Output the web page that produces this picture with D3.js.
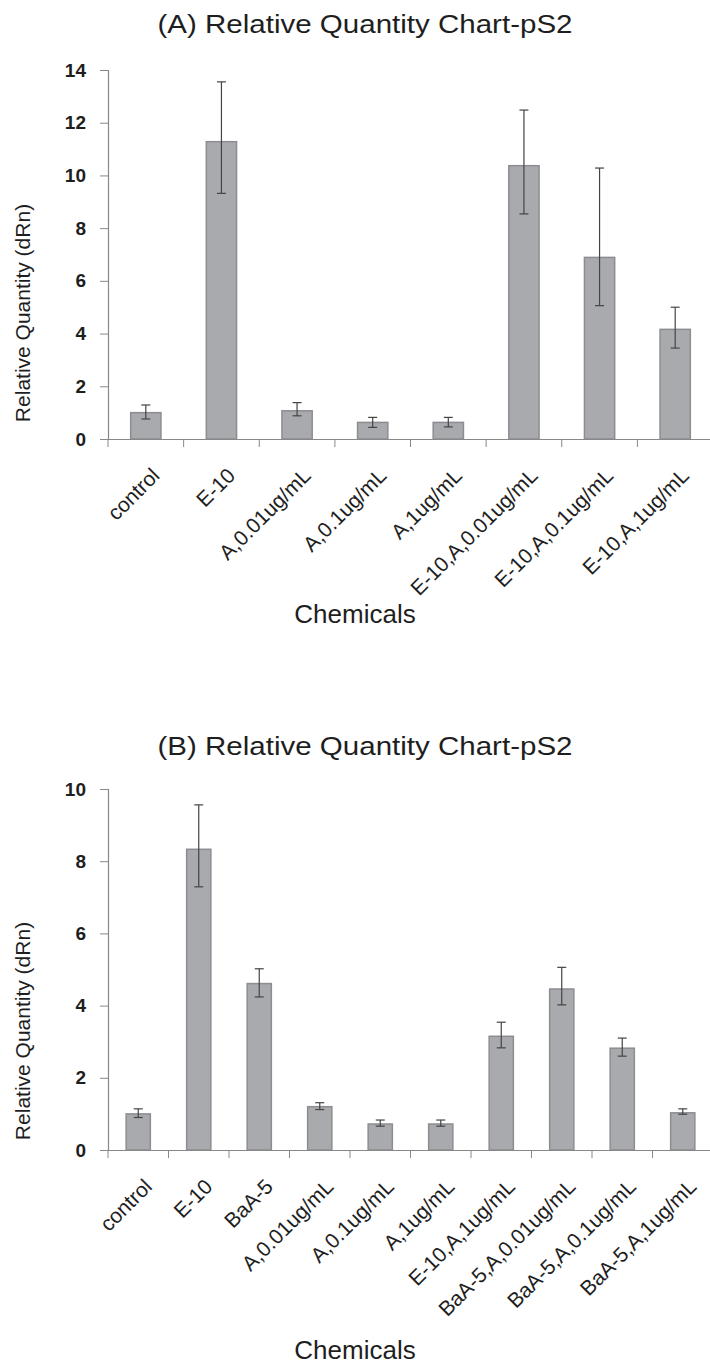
<!DOCTYPE html>
<html>
<head>
<meta charset="utf-8">
<script src="https://cdn.jsdelivr.net/npm/d3@7"></script>
<style>
  body { margin: 0; background: #fff; }
  text { font-family: "Liberation Sans", Arial, sans-serif; fill: #1e1e1e; }
</style>
</head>
<body>
<svg id="chart" width="710" height="1367"></svg>
<script>
// panel A data
const catsA = ['control', 'E-10', 'A,0.01ug/mL', 'A,0.1ug/mL', 'A,1ug/mL',
  'E-10,A,0.01ug/mL', 'E-10,A,0.1ug/mL', 'E-10,A,1ug/mL'];
const valsA = [1.0, 11.28, 1.07, 0.63, 0.63, 10.37, 6.89, 4.16];
const hiA = [1.29, 13.55, 1.38, 0.82, 0.82, 12.48, 10.28, 5.0];
const loA = [0.76, 9.32, 0.88, 0.44, 0.46, 8.54, 5.06, 3.45];
const ticksA = [0, 2, 4, 6, 8, 10, 12, 14];

// panel B data
const catsB = ['control', 'E-10', 'BaA-5', 'A,0.01ug/mL', 'A,0.1ug/mL', 'A,1ug/mL',
  'E-10,A,1ug/mL', 'BaA-5,A,0.01ug/mL', 'BaA-5,A,0.1ug/mL', 'BaA-5,A,1ug/mL'];
const valsB = [1.0, 8.33, 4.61, 1.2, 0.72, 0.72, 3.15, 4.46, 2.82, 1.03];
const hiB = [1.14, 9.56, 5.02, 1.31, 0.83, 0.83, 3.54, 5.06, 3.10, 1.14];
const loB = [0.9, 7.29, 4.24, 1.12, 0.66, 0.66, 2.83, 4.02, 2.6, 0.99];
const ticksB = [0, 2, 4, 6, 8, 10];

const svg = d3.select('#chart');

function panel(opts) {
  const { title, cats, vals, hi, lo, ticks, yMax, top, bottom, titleY, yTitleY, xTitleY } = opts;
  const left = 108, right = 713;

  const x = d3.scaleBand().domain(cats).range([left, right]).paddingInner(0.6).paddingOuter(0.3);
  const y = d3.scaleLinear().domain([0, yMax]).range([bottom, top]);

  const g = svg.append('g');

  // title
  g.append('text')
    .attr('x', 365).attr('y', titleY)
    .attr('text-anchor', 'middle')
    .style('font-size', '26px')
    .attr('textLength', 415).attr('lengthAdjust', 'spacingAndGlyphs')
    .text(title);

  // bars
  g.append('g').selectAll('rect')
    .data(cats)
    .enter()
    .append('rect')
    .attr('x', d => x(d))
    .attr('width', x.bandwidth())
    .attr('y', (d, i) => y(vals[i]))
    .attr('height', (d, i) => y(0) - y(vals[i]))
    .attr('fill', '#a9aaae')
    .attr('stroke', '#8c8d91')
    .attr('stroke-width', 1.5);

  // error bars
  const eb = g.append('g').attr('stroke', '#444').attr('stroke-width', 1.2);
  cats.forEach((c, i) => {
    const cx = x(c) + x.bandwidth() / 2;
    eb.append('line').attr('x1', cx).attr('x2', cx).attr('y1', y(hi[i])).attr('y2', y(lo[i]));
    eb.append('line').attr('x1', cx - 4.5).attr('x2', cx + 4.5).attr('y1', y(hi[i])).attr('y2', y(hi[i]));
    eb.append('line').attr('x1', cx - 4.5).attr('x2', cx + 4.5).attr('y1', y(lo[i])).attr('y2', y(lo[i]));
  });

  // y axis
  const yAxis = g.append('g')
    .attr('transform', `translate(${left},0)`)
    .call(d3.axisLeft(y).tickValues(ticks).tickSize(8).tickPadding(14).tickFormat(d3.format('d')));
  yAxis.selectAll('text').style('font-size', '19px').style('font-weight', 'bold').attr('fill', '#222');

  // x axis, ticks between categories
  const xAxis = g.append('g')
    .attr('transform', `translate(0,${bottom})`)
    .call(d3.axisBottom(x).tickSizeOuter(0).tickSize(0).tickFormat(''));
  const gap = (x.step() - x.bandwidth()) / 2;
  xAxis.selectAll('.bound')
    .data(cats)
    .enter()
    .append('line')
    .attr('class', 'bound')
    .attr('x1', d => x(d) - gap)
    .attr('x2', d => x(d) - gap)
    .attr('y1', 0).attr('y2', 8)
    .attr('stroke', '#888');

  g.selectAll('.domain').attr('stroke', '#888').attr('stroke-width', 1.2);
  g.selectAll('.tick line').attr('stroke', '#888');

  // rotated category labels
  g.append('g').selectAll('text')
    .data(cats)
    .enter()
    .append('text')
    .attr('text-anchor', 'end')
    .style('font-size', '21px')
    .attr('transform', d => `translate(${x(d) + x.bandwidth() / 2 + 15},${bottom + 38}) rotate(-45)`)
    .text(d => d);

  // axis titles
  g.append('text')
    .attr('transform', `translate(30,${yTitleY}) rotate(-90)`)
    .attr('text-anchor', 'middle')
    .style('font-size', '21px')
    .text('Relative Quantity (dRn)');

  g.append('text')
    .attr('x', 355).attr('y', xTitleY)
    .attr('text-anchor', 'middle')
    .style('font-size', '26px')
    .text('Chemicals');
}

panel({ title: '(A) Relative Quantity Chart-pS2', cats: catsA, vals: valsA, hi: hiA, lo: loA,
  ticks: ticksA, yMax: 14, top: 70, bottom: 439, titleY: 33, yTitleY: 313, xTitleY: 623 });

panel({ title: '(B) Relative Quantity Chart-pS2', cats: catsB, vals: valsB, hi: hiB, lo: loB,
  ticks: ticksB, yMax: 10, top: 789, bottom: 1150, titleY: 755, yTitleY: 1031, xTitleY: 1359 });
</script>
</body>
</html>
